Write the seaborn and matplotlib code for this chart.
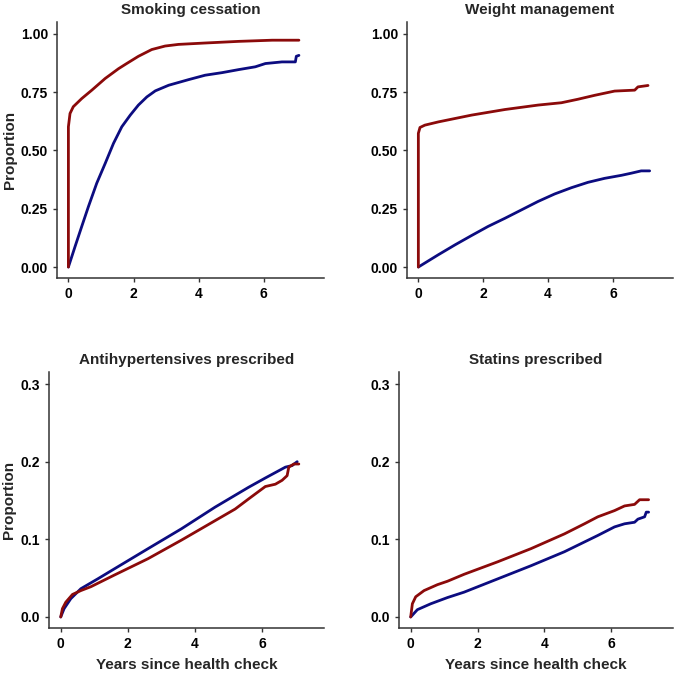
import pandas as pd
import seaborn as sns
import matplotlib.pyplot as plt

# curves; "red" and "blue" groups
smk_red_t = [0, 0.0, 0.05, 0.15, 0.41, 0.72, 1.13, 1.54, 1.79, 2.15, 2.56, 2.97, 3.38, 4.2, 5.23, 6.26, 7.08]
smk_red = [0, 0.601, 0.658, 0.687, 0.722, 0.758, 0.808, 0.85, 0.872, 0.903, 0.932, 0.947, 0.954, 0.96, 0.967, 0.972, 0.972]
smk_blue_t = [0, 0.205, 0.41, 0.615, 0.87, 1.13, 1.385, 1.64, 1.9, 2.15, 2.41, 2.67, 3.08, 3.69, 4.2, 4.72,
              5.23, 5.74, 6.05, 6.56, 6.97, 7.0, 7.08]
smk_blue = [0, 0.088, 0.174, 0.259, 0.359, 0.444, 0.53, 0.601, 0.651, 0.694, 0.729, 0.755, 0.779, 0.803, 0.822, 0.833,
            0.846, 0.858, 0.872, 0.879, 0.879, 0.903, 0.907]

wt_red_t = [0, 0.0, 0.05, 0.2, 0.62, 1.64, 2.67, 3.69, 4.41, 4.92, 5.44, 6.05, 6.67, 6.77, 7.08]
wt_red = [0, 0.573, 0.598, 0.608, 0.622, 0.651, 0.675, 0.694, 0.704, 0.719, 0.736, 0.754, 0.758, 0.772, 0.778]
wt_blue_t = [0, 0.62, 1.13, 1.64, 2.15, 2.67, 3.18, 3.69, 4.2, 4.72, 5.23, 5.74, 6.26, 6.56, 6.87, 7.13]
wt_blue = [0, 0.053, 0.095, 0.135, 0.174, 0.209, 0.245, 0.281, 0.313, 0.34, 0.363, 0.38, 0.393, 0.402, 0.412, 0.412]

ah_red_t = [0, 0.05, 0.15, 0.35, 0.6, 0.9, 1.6, 2.6, 3.6, 4.6, 5.2, 5.6, 6.1, 6.4, 6.6, 6.75, 6.8, 6.95, 7.1]
ah_red = [0, 0.0107, 0.019, 0.029, 0.034, 0.039, 0.054, 0.075, 0.099, 0.124, 0.139, 0.152, 0.168, 0.171, 0.176,
          0.182, 0.193, 0.197, 0.197]
ah_blue_t = [0, 0.1, 0.3, 0.6, 1.1, 1.6, 2.6, 3.6, 4.6, 5.6, 6.1, 6.4, 6.7, 6.9, 7.05]
ah_blue = [0, 0.0107, 0.0236, 0.0364, 0.049, 0.062, 0.0879, 0.1136, 0.1414, 0.167, 0.179, 0.186, 0.193, 0.195, 0.2]

st_red_t = [0, 0.05, 0.15, 0.4, 0.8, 1.1, 1.6, 2.6, 3.6, 4.6, 5.2, 5.6, 6.1, 6.4, 6.7, 6.85, 7.12]
st_red = [0, 0.017, 0.026, 0.034, 0.0416, 0.046, 0.055, 0.071, 0.088, 0.107, 0.12, 0.129, 0.137, 0.143, 0.145,
          0.151, 0.151]
st_blue_t = [0, 0.2, 0.6, 1.1, 1.6, 2.6, 3.6, 4.6, 5.6, 6.1, 6.4, 6.7, 6.8, 7.0, 7.05, 7.12]
st_blue = [0, 0.0094, 0.017, 0.025, 0.032, 0.049, 0.066, 0.084, 0.105, 0.116, 0.12, 0.122, 0.126, 0.129, 0.135,
           0.135]

titles = ["Smoking cessation", "Weight management", "Antihypertensives prescribed", "Statins prescribed"]
panels = [
    (smk_red_t, smk_red, smk_blue_t, smk_blue),
    (wt_red_t, wt_red, wt_blue_t, wt_blue),
    (ah_red_t, ah_red, ah_blue_t, ah_blue),
    (st_red_t, st_red, st_blue_t, st_blue),
]
palette = {"blue": "#0c0c80", "red": "#8b0a0a"}

sns.set_style("ticks")
plt.rcParams['font.family'] = ['Liberation Sans', 'DejaVu Sans']
plt.rcParams['font.weight'] = 'bold'

fig = plt.figure(figsize=(6.75, 6.73), dpi=100)
W, H = 675, 673
# axes boxes in pixels: left, top, right, bottom
boxes = [(57, 22, 324, 278), (407, 22, 673, 278), (49, 372, 324, 628), (399, 372, 673, 628)]

for i, (box, (rt, rv, bt, bv)) in enumerate(zip(boxes, panels)):
    l, t, r, b = box
    ax = fig.add_axes([l / W, 1 - b / H, (r - l) / W, (b - t) / H])
    df = pd.concat([
        pd.DataFrame({"time": bt, "prop": bv, "group": "blue"}),
        pd.DataFrame({"time": rt, "prop": rv, "group": "red"}),
    ])
    sns.lineplot(data=df, x="time", y="prop", hue="group", palette=palette,
                 estimator=None, sort=False, linewidth=2, legend=False, ax=ax)
    ax.set_title(titles[i], fontsize=11, fontweight='bold', pad=6)
    ax.set_xlim(-0.35, 7.85)
    ax.set_xticks([0, 2, 4, 6])
    if i < 2:
        ax.set_ylim(-0.047, 1.05)
        ax.set_yticks([0, 0.25, 0.5, 0.75, 1.0])
        ax.set_yticklabels(["0.00", "0.25", "0.50", "0.75", "1.00"])
        ax.set_xlabel("")
    else:
        ax.set_ylim(-0.0142, 0.3155)
        ax.set_yticks([0, 0.1, 0.2, 0.3])
        ax.set_yticklabels(["0.0", "0.1", "0.2", "0.3"])
        ax.set_xlabel("Years since health check", fontsize=11, fontweight='bold', labelpad=5)
    if i % 2 == 0:
        ax.set_ylabel("Proportion", fontsize=11, fontweight='bold', labelpad=3)
    else:
        ax.set_ylabel("")
    sns.despine(ax=ax)
    for s in ["left", "bottom"]:
        ax.spines[s].set_color("#333333")
        ax.spines[s].set_linewidth(1.1)
    ax.tick_params(colors="#333333", labelcolor="black", labelsize=10, length=3, width=1)
    for lab in ax.get_xticklabels() + ax.get_yticklabels():
        lab.set_fontweight('bold')

fig.savefig("out.png", dpi=100)
